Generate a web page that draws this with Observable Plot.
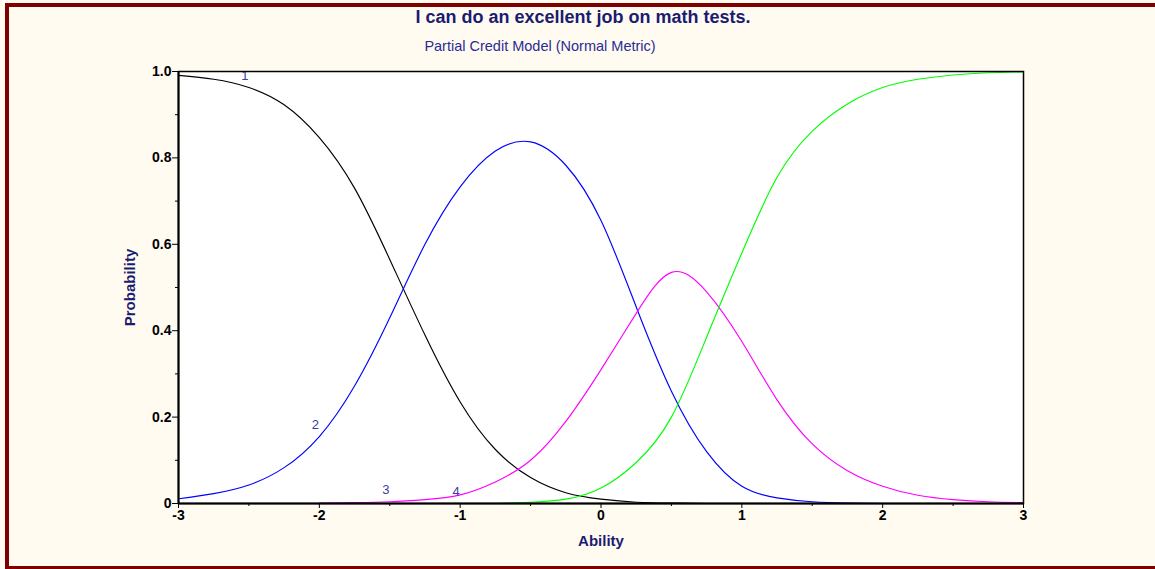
<!DOCTYPE html>
<html>
<head>
<meta charset="utf-8">
<script src="https://cdn.jsdelivr.net/npm/d3@7"></script>
<script src="https://cdn.jsdelivr.net/npm/@observablehq/plot@0.6"></script>
<style>
  html, body { margin: 0; padding: 0; width: 1155px; height: 569px; overflow: hidden; background: #fffbf0; }
  body { position: relative; font-family: "Liberation Sans", Arial, Helvetica, sans-serif; }
  #border { position: absolute; left: 5px; top: 3px; width: 1170px; height: 559px;
            border: 4px solid #800000; border-right: none; box-sizing: content-box; }
  #title { position: absolute; left: 0; top: 6px; width: 1166px; text-align: center;
           font-size: 18px; line-height: 22px; font-weight: bold; color: #1b1b72; }
  #subtitle { position: absolute; left: 0; top: 37px; width: 1080px; text-align: center;
              font-size: 14.5px; line-height: 18px; color: #2b2b94; }
  #chart { position: absolute; left: 0; top: 60px; }
</style>
</head>
<body>
<div id="border"></div>
<div id="title">I can do an excellent job on math tests.</div>
<div id="subtitle">Partial Credit Model (Normal Metric)</div>
<div id="chart"></div>
<script>
// Ability grid (logits, normal metric)
const theta = [-3, -2.75, -2.5, -2.25, -2, -1.75, -1.5, -1.25, -1, -0.75, -0.5, -0.25,
               0, 0.25, 0.5, 0.75, 1, 1.25, 1.5, 1.75, 2, 2.25, 2.5, 2.75, 3];

// Category response probabilities at each grid point (null = not drawn)
const cat1 = [0.991, 0.982, 0.963, 0.923, 0.847, 0.730, 0.565, 0.390, 0.235, 0.125, 0.060, 0.025,
              0.010, 0.003, 0.001, 0.000, null, null, null, null, null, null, null, null, null];
const cat2 = [0.011, 0.023, 0.043, 0.083, 0.155, 0.272, 0.430, 0.600, 0.733, 0.816, 0.837, 0.783,
              0.655, 0.455, 0.260, 0.120, 0.040, 0.013, 0.004, 0.001, 0.000, null, null, null, null];
const cat3 = [null, null, null, null, 0.001, 0.002, 0.004, 0.009, 0.020, 0.050, 0.100, 0.190,
              0.310, 0.440, 0.535, 0.490, 0.375, 0.240, 0.138, 0.076, 0.040, 0.019, 0.009, 0.004, 0.002];
const cat4 = [null, null, null, null, null, null, null, null, null, 0.000, 0.003, 0.010,
              0.036, 0.095, 0.200, 0.385, 0.580, 0.755, 0.862, 0.925, 0.963, 0.982, 0.992, 0.997, 0.999];

const categories = ["1", "2", "3", "4"];
const categoryColors = ["#000000", "#0000ff", "#ff00ff", "#00ff00"];
const probabilities = [cat1, cat2, cat3, cat4];

// Axis ticks
const xTicks = [-3, -2, -1, 0, 1, 2, 3];
const xTickLabels = ["-3", "-2", "-1", "0", "1", "2", "3"];
const xMinorTicks = [-2.5, -1.5, -0.5, 0.5, 1.5, 2.5];
const yTicks = [0, 0.2, 0.4, 0.6, 0.8, 1.0];
const yTickLabels = ["0", "0.2", "0.4", "0.6", "0.8", "1.0"];
const yMinorTicks = [0.1, 0.3, 0.5, 0.7, 0.9];

// Long-format rows for the line mark
const rows = categories.flatMap((cat, i) =>
  theta.map((t, j) => ({cat, theta: t, p: probabilities[i][j]})).filter(d => d.p != null)
);

// Category numbers sit along the left, one every second grid step
const labelRows = categories.map((cat, i) => {
  const j = (i + 1) * 2;
  return {cat, theta: theta[j], p: probabilities[i][j] ?? 0};
});

const font = '"Liberation Sans", Arial, Helvetica, sans-serif';
const navy = "#1b1b72";

const chart = Plot.plot({
  width: 1155,
  height: 510,
  marginLeft: 178,
  marginRight: 132,
  marginTop: 11,
  marginBottom: 67,
  style: {background: "transparent", fontFamily: font, color: "#000", overflow: "visible"},
  x: {domain: [-3, 3]},
  y: {domain: [0, 1]},
  color: {domain: categories, range: categoryColors},
  marks: [
    Plot.frame({fill: "#ffffff", stroke: null}),
    Plot.line(rows, {x: "theta", y: "p", z: "cat", stroke: "cat", strokeWidth: 1.15, curve: "natural"}),
    Plot.text(labelRows, {x: "theta", y: "p", text: "cat", dx: -4, dy: -12,
                          fill: "#3c3ca6", fontSize: 13}),
    Plot.frame({stroke: "#000", strokeWidth: 1.5}),
    Plot.ruleX([-3], {stroke: "#000", strokeWidth: 2}),
    Plot.ruleY([0], {stroke: "#000", strokeWidth: 2}),
    Plot.axisX({ticks: xTicks, tickSize: 5, tickPadding: 2, tickFormat: (d, i) => xTickLabels[i],
                fontSize: 14, fontWeight: "bold", label: null}),
    Plot.axisX({ticks: xMinorTicks, tickSize: 3, text: null, label: null}),
    Plot.axisY({ticks: yTicks, tickSize: 6, tickPadding: 1, tickFormat: (d, i) => yTickLabels[i],
                fontSize: 14, fontWeight: "bold", label: null}),
    Plot.axisY({ticks: yMinorTicks, tickSize: 3, text: null, label: null}),
    Plot.text(["Ability"], {text: d => d, frameAnchor: "bottom", lineAnchor: "middle", dy: 38,
                            fontSize: 15, fontWeight: "bold", fill: navy}),
    Plot.text(["Probability"], {text: d => d, frameAnchor: "left", textAnchor: "middle", dx: -48, rotate: -90,
                                fontSize: 15, fontWeight: "bold", fill: navy})
  ]
});

document.getElementById("chart").appendChild(chart);
</script>
</body>
</html>
